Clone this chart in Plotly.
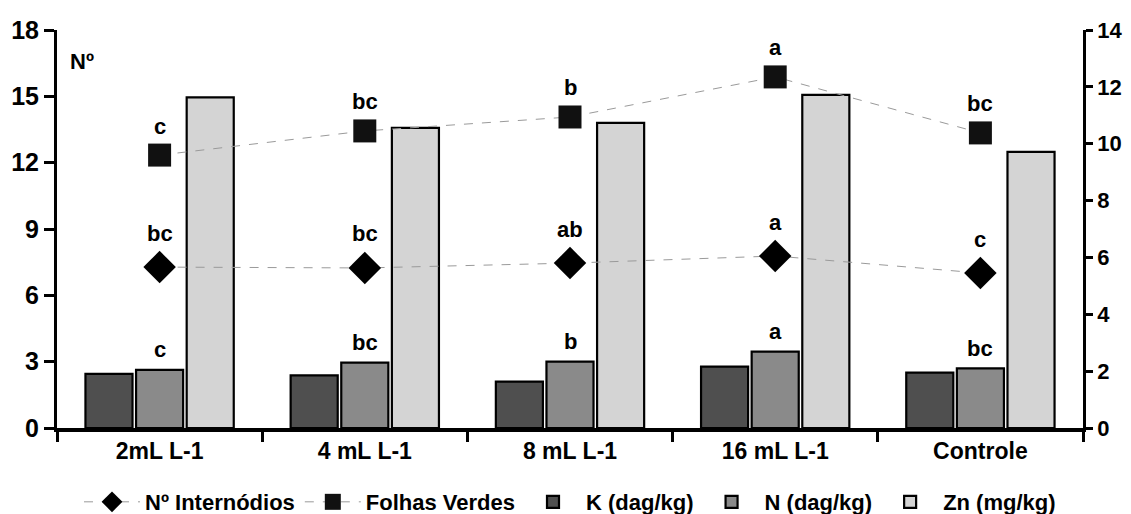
import plotly.graph_objects as go

categories = ["2mL L-1", "4 mL L-1", "8 mL L-1", "16 mL L-1", "Controle"]

# Bars (left axis)
k_vals = [2.45, 2.38, 2.10, 2.78, 2.50]
n_vals = [2.63, 2.96, 3.00, 3.45, 2.70]
zn_vals = [14.95, 13.57, 13.80, 15.07, 12.49]

# Lines (right axis)
folhas_vals = [9.6, 10.45, 10.94, 12.35, 10.38]
intern_vals = [5.66, 5.63, 5.80, 6.05, 5.45]

folhas_letters = ["c", "bc", "b", "a", "bc"]
intern_letters = ["bc", "bc", "ab", "a", "c"]
n_letters = ["c", "bc", "b", "a", "bc"]

FONT = "Liberation Sans, Arial, sans-serif"

fig = go.Figure()

bar_line = dict(color="black", width=2.2)
fig.add_trace(go.Bar(x=categories, y=k_vals, name="K (dag/kg)",
                     marker=dict(color="#4f4f4f", line=bar_line), legendrank=3))
fig.add_trace(go.Bar(x=categories, y=n_vals, name="N (dag/kg)",
                     marker=dict(color="#8a8a8a", line=bar_line), legendrank=4))
fig.add_trace(go.Bar(x=categories, y=zn_vals, name="Zn (mg/kg)",
                     marker=dict(color="#d4d4d4", line=bar_line), legendrank=5))

fig.add_trace(go.Scatter(x=categories, y=intern_vals, name="Nº Internódios", yaxis="y2",
                         mode="lines+markers",
                         line=dict(color="#9a9a9a", width=1, dash="dash"),
                         marker=dict(symbol="diamond", size=25, color="black"),
                         legendrank=1))
fig.add_trace(go.Scatter(x=categories, y=folhas_vals, name="Folhas Verdes", yaxis="y2",
                         mode="lines+markers",
                         line=dict(color="#9a9a9a", width=1, dash="dash"),
                         marker=dict(symbol="square", size=23, color="#111111"),
                         legendrank=2))

annots = []
lf = dict(family=FONT, size=22, color="black", weight="bold")
for c, v, t in zip(categories, folhas_vals, folhas_letters):
    annots.append(dict(x=c, y=v, xref="x", yref="y2", text=t, showarrow=False,
                       yanchor="middle", yshift=29, font=lf))
for c, v, t in zip(categories, intern_vals, intern_letters):
    annots.append(dict(x=c, y=v, xref="x", yref="y2", text=t, showarrow=False,
                       yanchor="middle", yshift=34, font=lf))
for c, v, t in zip(categories, n_vals, n_letters):
    annots.append(dict(x=c, y=v, xref="x", yref="y", text=t, showarrow=False,
                       yanchor="middle", yshift=20, font=lf))
annots.append(dict(x=0.0105, y=0.922, xref="paper", yref="paper", text="Nº",
                   showarrow=False, xanchor="left", yanchor="middle", font=lf))

fig.update_layout(
    width=1131, height=514,
    margin=dict(l=57, r=48, t=30, b=86, autoexpand=False),
    paper_bgcolor="white", plot_bgcolor="white",
    barmode="group", bargap=0.26, bargroupgap=0.07,
    font=dict(family=FONT, color="black"),
    annotations=annots,
    showlegend=True,
    legend=dict(orientation="h", x=0.5, xanchor="center", y=-0.186, yanchor="middle",
                font=dict(family=FONT, size=22, color="black", weight="bold"),
                itemwidth=56, traceorder="normal"),
    xaxis=dict(range=[-0.5, 4.5], showline=True, linecolor="black", linewidth=3.5,
               ticks="outside", ticklen=10, tickwidth=3, tickcolor="black",
               tickson="boundaries", showgrid=False, zeroline=False,
               tickfont=dict(family=FONT, size=23, color="black", weight="bold")),
    yaxis=dict(range=[0, 18], tickvals=[0, 3, 6, 9, 12, 15, 18], showline=True,
               linecolor="black", linewidth=3, ticks="outside", ticklen=10,
               tickwidth=3, tickcolor="black", showgrid=False, zeroline=False,
               tickfont=dict(family=FONT, size=25, color="black", weight="bold")),
    yaxis2=dict(range=[0, 14], tickvals=[0, 2, 4, 6, 8, 10, 12, 14], overlaying="y",
                side="right", showline=True, linecolor="black", linewidth=2.5,
                ticks="outside", ticklen=7, tickwidth=2.5, tickcolor="black",
                showgrid=False, zeroline=False,
                tickfont=dict(family=FONT, size=22, color="black", weight="bold")),
)

fig.write_html("out.html")
